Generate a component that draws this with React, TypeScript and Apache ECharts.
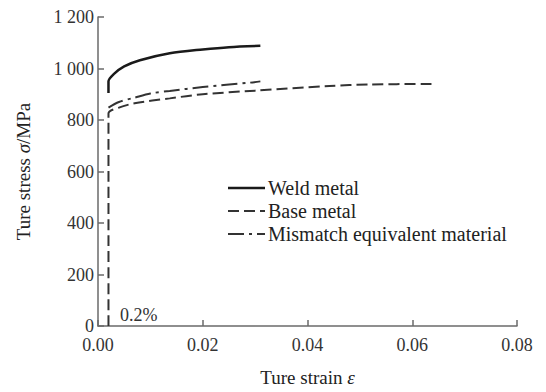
import React, { useEffect, useRef } from "react";
import * as echarts from "echarts";

const seriesNames = ["Weld metal", "Base metal", "Mismatch equivalent material"];

const weldStrain = [0.002, 0.002, 0.003, 0.005, 0.008, 0.0137, 0.02, 0.025, 0.031];
const weldStress = [905, 950, 978, 1008, 1032, 1059, 1074, 1083, 1088];

const baseStrain = [0.002, 0.002, 0.004, 0.007, 0.0137, 0.02, 0.03, 0.0442, 0.0518, 0.0638];
const baseStress = [0, 825, 848, 865, 884, 900, 914, 932, 938, 940];

const mismatchStrain = [0.002, 0.004, 0.007, 0.01, 0.0137, 0.02, 0.029, 0.031];
const mismatchStress = [848, 870, 887, 903, 913, 928, 945, 950];

const xTicks = { min: 0, max: 0.08, interval: 0.02 };
const yTicks = { min: 0, max: 1200, interval: 200 };

const pairs = (xs: number[], ys: number[]) => xs.map((x, i) => [x, ys[i]]);

const FONT = "'Liberation Serif', 'DejaVu Serif', serif";

const lineStyles = [
  { color: "#1a1a1a", width: 2.5, dash: null as number[] | null },
  { color: "#333", width: 2, dash: [11, 5] },
  { color: "#333", width: 2, dash: [16, 5, 3, 5] },
];

export default function App() {
  const ref = useRef<HTMLDivElement>(null);
  useEffect(() => {
    if (!ref.current) return;
    const chart = echarts.init(ref.current, undefined, { renderer: "svg" });
    const axisColor = "#6a6a6a";
    const legendRows = [188, 211, 234];
    const legendGraphics: any[] = [];
    seriesNames.forEach((n, i) => {
      const ls = lineStyles[i];
      legendGraphics.push({
        type: "line",
        shape: { x1: 228, y1: legendRows[i], x2: 265, y2: legendRows[i] },
        style: { stroke: ls.color, lineWidth: ls.width, lineDash: ls.dash || undefined },
      });
      legendGraphics.push({
        type: "text",
        x: 268,
        y: legendRows[i],
        style: { text: n, font: `20px ${FONT}`, fill: "#222", verticalAlign: "middle", align: "left" },
      });
    });
    chart.setOption({
      animation: false,
      backgroundColor: "#fff",
      textStyle: { fontFamily: FONT },
      grid: { left: 98, right: 29, top: 17, bottom: 59, containLabel: false },
      xAxis: {
        type: "value",
        min: xTicks.min,
        max: xTicks.max,
        interval: xTicks.interval,
        name: "Ture strain {i|ε}",
        nameLocation: "middle",
        nameGap: 42,
        nameTextStyle: {
          fontFamily: FONT,
          fontSize: 19,
          color: "#222",
          rich: { i: { fontFamily: FONT, fontSize: 19, fontStyle: "italic", color: "#222" } },
        },
        axisLine: { lineStyle: { color: axisColor, width: 1.5 } },
        axisTick: { inside: true, length: 6, lineStyle: { color: axisColor, width: 1.5 } },
        axisLabel: {
          fontFamily: FONT,
          fontSize: 18,
          color: "#333",
          margin: 10,
          formatter: (v: number) => v.toFixed(2),
        },
        splitLine: { show: false },
      },
      yAxis: {
        type: "value",
        min: yTicks.min,
        max: yTicks.max,
        interval: yTicks.interval,
        name: "Ture stress {i|σ}/MPa",
        nameLocation: "middle",
        nameGap: 65,
        nameTextStyle: {
          fontFamily: FONT,
          fontSize: 19,
          color: "#222",
          rich: { i: { fontFamily: FONT, fontSize: 19, fontStyle: "italic", color: "#222" } },
        },
        axisLine: { show: true, lineStyle: { color: axisColor, width: 1.5 } },
        axisTick: { show: true, inside: true, length: 6, lineStyle: { color: axisColor, width: 1.5 } },
        axisLabel: {
          fontFamily: FONT,
          fontSize: 18,
          color: "#333",
          margin: 4,
          formatter: (v: number) => (v >= 1000 ? "1 " + String(v).slice(1) : String(v)),
        },
        splitLine: { show: false },
      },
      graphic: [
        {
          type: "text",
          left: 120,
          top: 306,
          style: { text: "0.2%", font: `18px ${FONT}`, fill: "#333" },
        },
        ...legendGraphics,
      ],
      series: [0, 1, 2].map((i) => {
        const ls = lineStyles[i];
        const data =
          i === 0
            ? pairs(weldStrain, weldStress)
            : i === 1
            ? pairs(baseStrain, baseStress)
            : pairs(mismatchStrain, mismatchStress);
        return {
          name: seriesNames[i],
          type: "line",
          data,
          symbol: "none",
          smooth: 0.3,
          lineStyle: { color: ls.color, width: ls.width, type: ls.dash || "solid" },
          itemStyle: { color: ls.color },
        };
      }),
    });
    return () => chart.dispose();
  }, []);
  return <div ref={ref} style={{ width: 546, height: 392, position: "absolute", left: 0, top: 0 }} />;
}
